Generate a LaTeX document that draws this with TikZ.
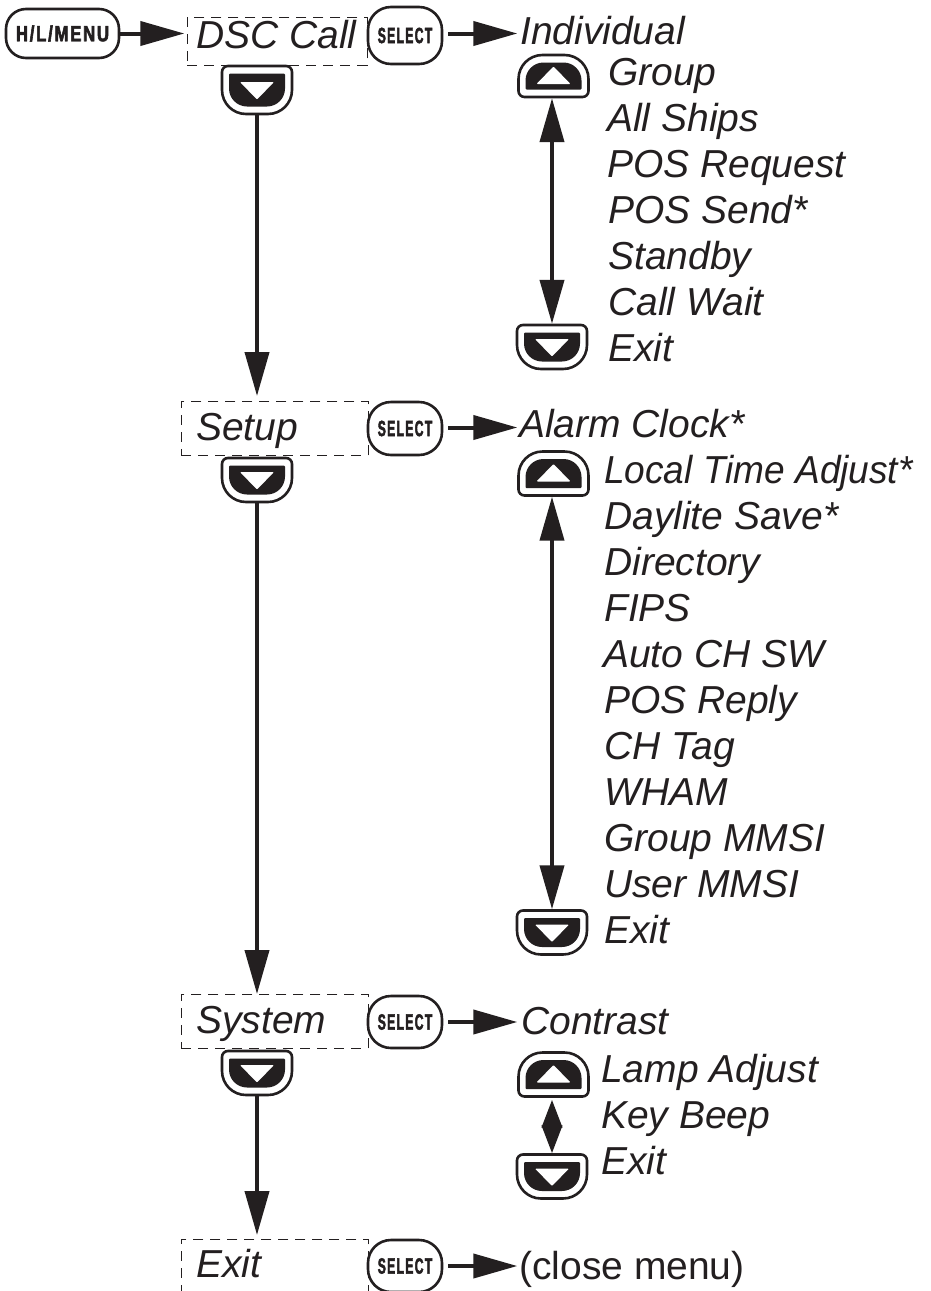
\documentclass[tikz,border=0pt]{standalone}
\usepackage{fontspec}
\setmainfont{Liberation Sans}
\newfontfamily\keyfont{Liberation Sans}[BoldFeatures={FakeStretch=0.66,FakeBold=2.2,LetterSpace=7}]
\usetikzlibrary{arrows.meta,positioning}
\definecolor{ink}{HTML}{231F20}
\newcommand{\selkey}{\scalebox{0.84}[1]{SELECT}}
\tikzset{
  lbl/.style={inner sep=0pt,anchor=base west,text=ink,yshift=-1pt,font=\fontsize{39}{39}\selectfont\itshape},
  plainlbl/.style={lbl,font=\fontsize{39}{39}\selectfont},
  menubox/.style={draw=ink,line width=0.9pt,dash pattern=on 10pt off 7pt,anchor=north west,inner sep=0pt},
  keybox/.style={draw=ink,fill=white,line width=2.6pt,rounded corners=23pt,inner sep=0pt,text=ink,
     font=\fontsize{22}{22}\keyfont\bfseries},
  slot/.style={inner sep=0pt,minimum width=72pt},
  stem/.style={draw=ink,line width=4pt},
  bigtip/.style={-{Triangle[length=44pt,width=24pt,color=ink]}},
  dbltip/.style={{Triangle[length=44pt,width=24pt,color=ink]}-{Triangle[length=44pt,width=24pt,color=ink]}},
  smalltip/.style={{Triangle[length=28pt,width=20pt,color=ink]}-{Triangle[length=28pt,width=20pt,color=ink]}},
  pics/arrowkey/.style={code={
    \draw[ink,fill=white,line width=2.6pt]
      (-35,-#1) [rounded corners=6pt] -- (35,-#1) [rounded corners=24pt] -- (35,#1) -- (-35,#1)
      [rounded corners=6pt] -- cycle;
    \fill[ink] (-28,-#1+7.5) [rounded corners=1pt] -- (28,-#1+7.5) [rounded corners=18pt] -- (28,#1-7.5) -- (-28,#1-7.5)
      [rounded corners=1pt] -- cycle;
    \fill[white] (-17,-8) [rounded corners=1pt] -- (17,-8) -- (0,9.5) -- cycle;
  }}
}
\begin{document}
\begin{tikzpicture}[x=1pt,y=-1pt]
\clip (0,0) rectangle (930,1291);
\fill[white] (0,0) rectangle (930,1291);
% dashed boxes
\node[menubox,minimum width=180pt,minimum height=48pt] (b1) at (187,17) {};
\node[menubox,minimum width=187pt,minimum height=54pt] (b2) at (181,401) {};
\node[menubox,minimum width=187pt,minimum height=54pt] (b3) at (181,994) {};
\node[menubox,minimum width=187pt,minimum height=90pt] (b4) at (181,1239) {};
% left labels
\node[lbl] (t1) at (196,47) {DSC Call};
\node[lbl] (t2) at (196,439) {Setup};
\node[lbl] (t3) at (196,1032) {System};
\node[lbl] (t4) at (196,1276) {Exit};
% keys
\node[keybox,minimum width=113pt,minimum height=49pt,rounded corners=20pt] (hl) at (62.5,33.5) {\scalebox{1.15}[1]{H/L/MENU}};
\node[keybox,minimum width=74pt,minimum height=57pt] (s1) at (405,35.5) {\selkey};
\node[keybox,minimum width=74pt,minimum height=53pt] (s2) at (405,428.5) {\selkey};
\node[keybox,minimum width=74pt,minimum height=52pt] (s3) at (405,1022) {\selkey};
\node[keybox,minimum width=74pt,minimum height=52pt] (s4) at (405,1266) {\selkey};
% down keys left
\node[slot,minimum height=48pt] (d1) at (257,90) {};
\pic at (d1) {arrowkey=24};
\node[slot,minimum height=46pt] (d2) at (257,480) {};
\pic at (d2) {arrowkey=22};
\node[slot,minimum height=44pt] (d3) at (257,1073) {};
\pic at (d3) {arrowkey=22};
% right keys
\node[slot,minimum height=44pt] (u1) at (553.5,76) {};
\pic[yscale=-1] at (u1) {arrowkey=21};
\node[slot,minimum height=46pt] (r1) at (552,347) {};
\pic at (r1) {arrowkey=22};
\node[slot,minimum height=46pt] (u2) at (553.5,473.5) {};
\pic[yscale=-1] at (u2) {arrowkey=22};
\node[slot,minimum height=46pt] (r2) at (552,932.5) {};
\pic at (r2) {arrowkey=22};
\node[slot,minimum height=46pt] (u3) at (553.5,1074.5) {};
\pic[yscale=-1] at (u3) {arrowkey=22};
\node[slot,minimum height=46pt] (r3) at (552,1176.5) {};
\pic at (r3) {arrowkey=22};
% right labels
\node[lbl] (a0) at (520,43) {Individual};
\node[lbl] (a1) at (608,84) {Group};
\node[lbl] (a2) at (607,130) {All Ships};
\node[lbl] (a3) at (607,176) {POS Request};
\node[lbl] (a4) at (608,222) {POS Send*};
\node[lbl] (a5) at (608,268) {Standby};
\node[lbl] (a6) at (608,314) {Call Wait};
\node[lbl] (a7) at (608,360) {Exit};
\node[lbl] (c0) at (519,436) {Alarm Clock*};
\node[lbl] (c1) at (604,482) {\scalebox{0.95}[1]{Local Time Adjust*}};
\node[lbl] (c2) at (604,528) {Daylite Save*};
\node[lbl] (c3) at (604,574) {Directory};
\node[lbl] (c4) at (604,620) {FIPS};
\node[lbl] (c5) at (603,666) {Auto CH SW};
\node[lbl] (c6) at (604,712) {POS Reply};
\node[lbl] (c7) at (604,758) {CH Tag};
\node[lbl] (c8) at (604,804) {WHAM};
\node[lbl] (c9) at (604,850) {Group MMSI};
\node[lbl] (c10) at (604,896) {User MMSI};
\node[lbl] (c11) at (604,942) {Exit};
\node[lbl] (e0) at (521,1033) {Contrast};
\node[lbl] (e1) at (601,1081) {Lamp Adjust};
\node[lbl] (e2) at (601,1127) {Key Beep};
\node[lbl] (e3) at (601,1173) {Exit};
\node[plainlbl] (x0) at (519,1278) {(close menu)};
% horizontal connectors
\draw[stem,bigtip] (hl.east) -- ++(64,0) coordinate (hlend);
\draw[stem,bigtip,shorten <=5pt] (s1.east) ++(0,-2) -- ++(74,0) coordinate (s1end);
\draw[stem,bigtip,shorten <=5pt] (s2.east) ++(0,-1) -- ++(74,0) coordinate (s2end);
\draw[stem,bigtip,shorten <=5pt] (s3.east) ++(0,0) -- ++(74,0) coordinate (s3end);
\draw[stem,bigtip,shorten <=5pt] (s4.east) ++(0,0) -- ++(74,0) coordinate (s4end);
% vertical connectors
\draw[stem,bigtip,shorten >=5pt] (d1.south) -- (d1.south |- b2.north);
\draw[stem,bigtip] (d2.south) -- (d2.south |- b3.north);
\draw[stem,bigtip,shorten >=4pt] (d3.south) -- (d3.south |- b4.north);
\draw[stem,dbltip] (u1.south -| r1.north) -- (r1.north);
\draw[stem,dbltip] (u2.south -| r2.north) -- (r2.north);
\draw[stem,smalltip,shorten <=2pt] (u3.south -| r3.north) -- (r3.north);
\end{tikzpicture}
\end{document}
